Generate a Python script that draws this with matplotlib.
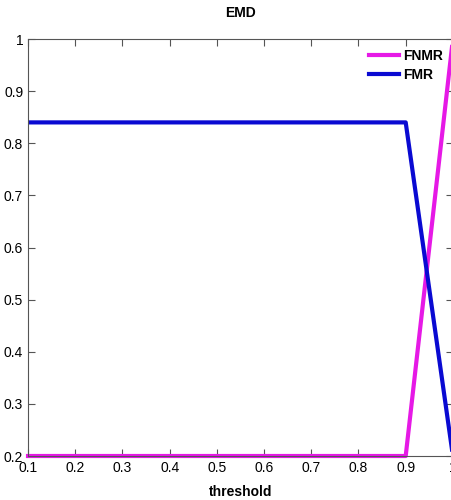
import numpy as np
import matplotlib.pyplot as plt

plt.rcParams['font.family'] = ['Liberation Sans Narrow', 'Liberation Sans', 'DejaVu Sans']

threshold = [0.1, 0.2, 0.3, 0.4, 0.5, 0.6, 0.7, 0.8, 0.9, 1.0]
fnmr = [0.2, 0.2, 0.2, 0.2, 0.2, 0.2, 0.2, 0.2, 0.2, 1.0]
fmr = [0.84, 0.84, 0.84, 0.84, 0.84, 0.84, 0.84, 0.84, 0.84, 0.2]

fig = plt.figure(figsize=(4.52, 5.0), dpi=100)
ax = fig.add_axes([0.062, 0.088, 0.94, 0.834])

ax.plot(threshold, fnmr, color='#e619e6', linewidth=3, label='FNMR', clip_on=False)
ax.plot(threshold, fmr, color='#0a0ad2', linewidth=3, label='FMR')

ax.set_xlim(0.1, 1.0)
ax.set_ylim(0.2, 1.0)
ax.set_xticks(np.arange(0.1, 1.01, 0.1))
ax.set_xticklabels(['0.1', '0.2', '0.3', '0.4', '0.5', '0.6', '0.7', '0.8', '0.9', '1'])
ax.set_yticks(np.arange(0.2, 1.01, 0.1))
ax.set_yticklabels(['0.2', '0.3', '0.4', '0.5', '0.6', '0.7', '0.8', '0.9', '1'])
ax.tick_params(direction='in', top=True, right=True, length=5, labelsize=10, color='#555555')
for s in ax.spines.values():
    s.set_color('#555555')

ax.set_title('EMD', fontsize=10, fontweight='bold', pad=16)
ax.set_xlabel('threshold', fontsize=10, fontweight='bold', labelpad=7)

ax.legend(loc='upper right', frameon=False, handlelength=2.2,
          borderaxespad=0.3, handletextpad=0.3, labelspacing=0.4,
          prop={'weight': 'bold', 'size': 10})

fig.savefig('out.png', dpi=100)
